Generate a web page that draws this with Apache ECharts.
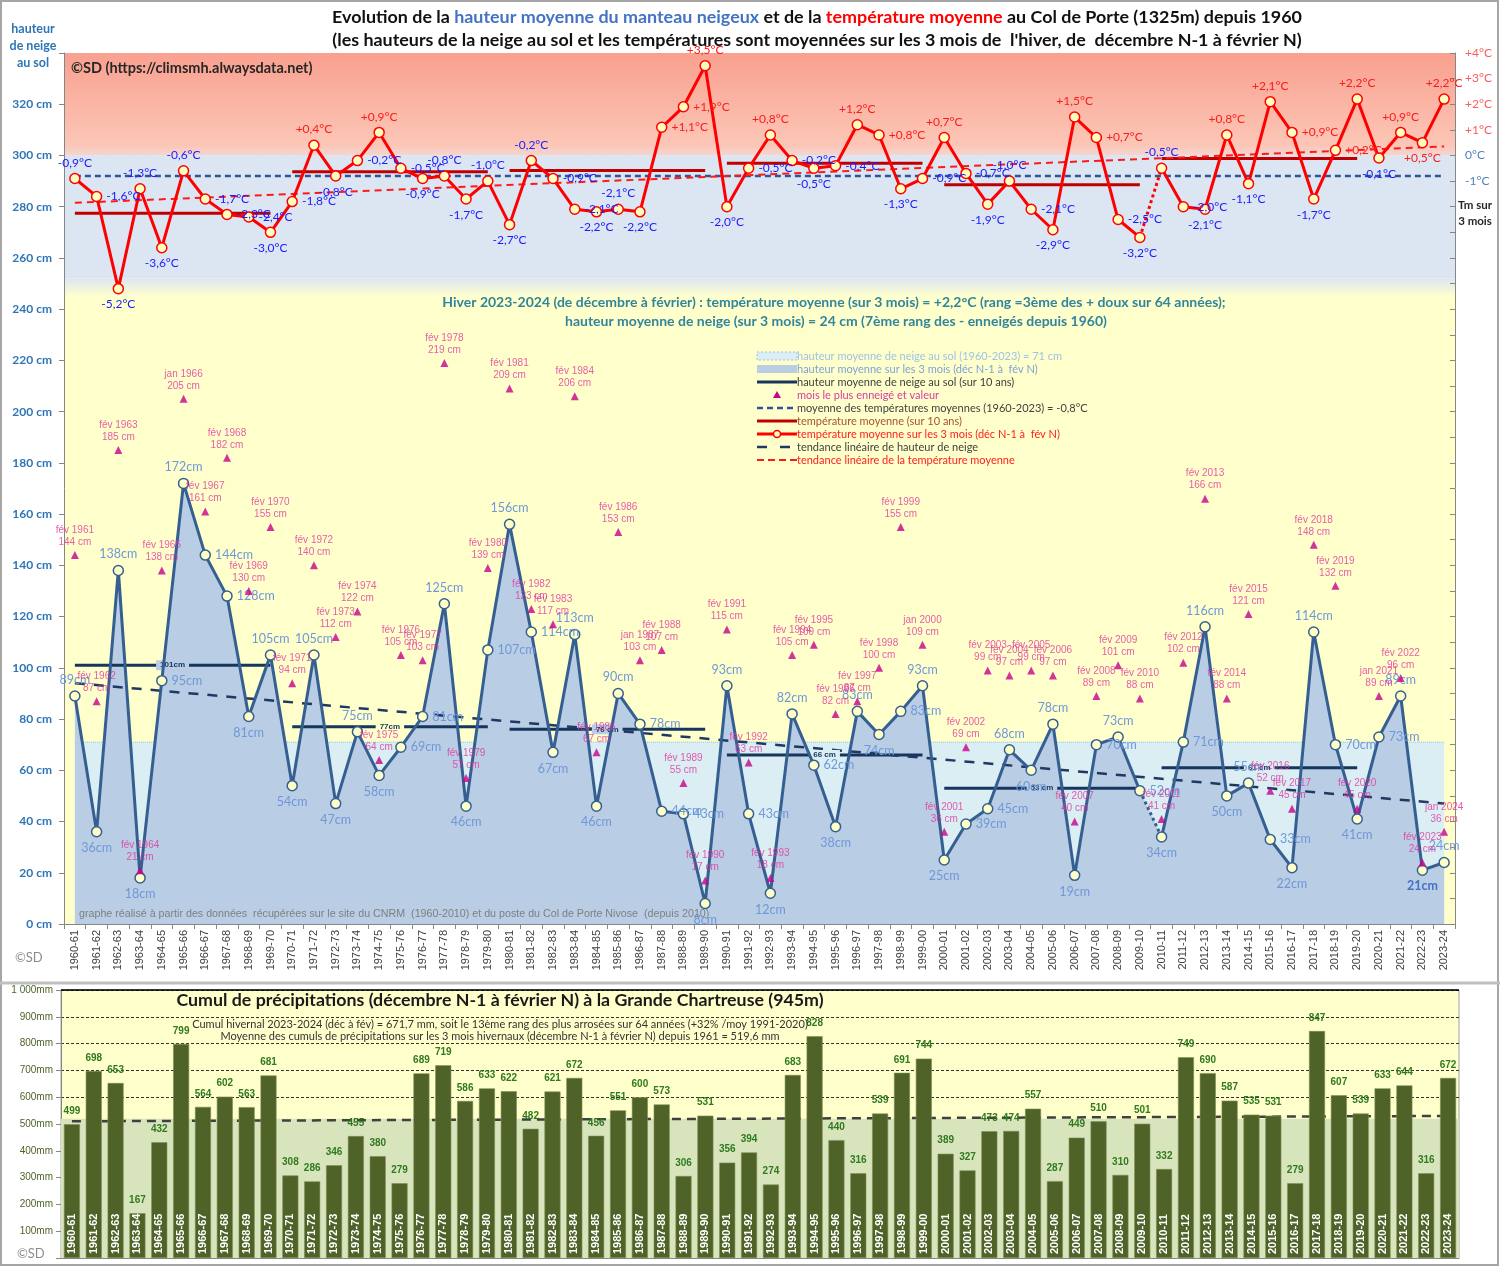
<!DOCTYPE html>
<html><head><meta charset="utf-8">
<script src="https://cdn.jsdelivr.net/npm/echarts@6/dist/echarts.min.js"></script>
<style>html,body{margin:0;padding:0;background:#fff}#c{width:1500px;height:1267px}</style>
</head><body><div id="c"></div>
<script>
const YEARS = ["1960-61","1961-62","1962-63","1963-64","1964-65","1965-66","1966-67","1967-68","1968-69","1969-70",
"1970-71","1971-72","1972-73","1973-74","1974-75","1975-76","1976-77","1977-78","1978-79","1979-80",
"1980-81","1981-82","1982-83","1983-84","1984-85","1985-86","1986-87","1987-88","1988-89","1989-90",
"1990-91","1991-92","1992-93","1993-94","1994-95","1995-96","1996-97","1997-98","1998-99","1999-00",
"2000-01","2001-02","2002-03","2003-04","2004-05","2005-06","2006-07","2007-08","2008-09","2009-10",
"2010-11","2011-12","2012-13","2013-14","2014-15","2015-16","2016-17","2017-18","2018-19","2019-20",
"2020-21","2021-22","2022-23","2023-24"];
const SNOW = [89,36,138,18,95,172,144,128,81,105, 54,105,47,75,58,69,81,125,46,107,
156,114,67,113,46,90,78,44,43,8, 93,43,12,82,62,38,83,74,83,93,
25,39,45,68,60,78,19,70,73,52, 34,71,116,50,55,33,22,114,70,41, 73,89,21,24];
const TEMP = [-0.9,-1.6,-5.2,-1.3,-3.6,-0.6,-1.7,-2.3,-2.4,-3.0, -1.8,0.4,-0.8,-0.2,0.9,-0.5,-0.9,-0.8,-1.7,-1.0,
-2.7,-0.2,-0.9,-2.1,-2.2,-2.1,-2.2,1.1,1.9,3.5, -2.0,-0.5,0.8,-0.2,-0.5,-0.4,1.2,0.8,-1.3,-0.9,
0.7,-0.7,-1.9,-1.0,-2.1,-2.9,1.5,0.7,-2.5,-3.2, -0.5,-2.0,-2.1,0.8,-1.1,2.1,0.9,-1.7,0.2,2.2, -0.1,0.9,0.5,2.2];
const MAX_MONTH = ["fév 1961","fév 1962","fév 1963","fév 1964","fév 1965","jan 1966","fév 1967","fév 1968","fév 1969","fév 1970",
"fév 1971","fév 1972","fév 1973","fév 1974","fév 1975","fév 1976","fév 1977","fév 1978","fév 1979","fév 1980",
"fév 1981","fév 1982","fév 1983","fév 1984","fév 1985","fév 1986","jan 1987","fév 1988","fév 1989","fév 1990",
"fév 1991","fév 1992","fév 1993","fév 1994","fév 1995","fév 1996","fév 1997","fév 1998","fév 1999","jan 2000",
"fév 2001","fév 2002","fév 2003","fév 2004","fév 2005","fév 2006","fév 2007","fév 2008","fév 2009","fév 2010",
"fév 2011","fév 2012","fév 2013","fév 2014","fév 2015","fév 2016","fév 2017","fév 2018","fév 2019","fév 2020",
"jan 2021","fév 2022","fév 2023","jan 2024"];
const MAX_VAL = [144,87,185,21,138,205,161,182,130,155, 94,140,112,122,64,105,103,219,57,139,
209,123,117,206,67,153,103,107,55,17, 115,63,18,105,109,82,87,100,155,109,
36,69,99,97,99,97,40,89,101,88, 41,102,166,88,121,52,45,148,132,45, 89,96,24,36];
const PRECIP = [499,698,653,167,432,799,564,602,563,681, 308,286,346,455,380,279,689,719,586,633,
622,482,621,672,456,551,600,573,306,531, 356,394,274,683,828,440,316,539,691,744,
389,327,473,474,557,287,449,510,310,501, 332,749,690,587,535,531,279,847,607,539, 633,644,316,672];
const DECADE_SNOW = [101,77,76,66,53,61];
const DECADE_SNOW_LABELS = ["101cm","77cm","76 cm","66 cm","53 cm","61 cm"];
const DECADE_TEMP = [-2.26,-0.64,-0.59,-0.30,-1.14,-0.12];
const SNOW_MEAN = 71;
const TEMP_MEAN = -0.8;
const PRECIP_MEAN = 519.6;
const SNOW_TREND = [94,47];
const TEMP_TREND = [-1.85,0.35];
const PRECIP_TREND = [510,530];
const BREAK = 49; // last index before station change (dotted link)

const N = YEARS.length;
const FILL = '#b9cde5', YEL = '#ffffcc', CYAN = '#daeef3', GRIDC = 'rgba(246,196,150,0.75)';
const SNOWLINE = '#365f91';

function fmtT(v){ const s = Math.abs(v).toFixed(1).replace('.',','); return (v>0?'+':(v<0?'-':''))+s+'°C'; }
function pos(arr,i){
  const v=arr[i], p=i>0?arr[i-1]:null, n=i<arr.length-1?arr[i+1]:null;
  if ((p===null||v>=p)&&(n===null||v>=n)) return 'top';
  if ((p===null||v<=p)&&(n===null||v<=n)) return 'bottom';
  return 'right';
}
function ends(a,b){ return YEARS.map((_,i)=> i===0?a:(i===N-1?b:null)); }

const series = [];
series.push({type:'line', xAxisIndex:0, yAxisIndex:0, data:YEARS.map(()=>null), z:0, silent:true, symbol:'none',
  markArea:{silent:true, data:[
    [{yAxis:300, itemStyle:{color:{type:'linear',x:0,y:0,x2:0,y2:1,colorStops:[{offset:0,color:'#f9a08f'},{offset:0.9,color:'#fcc6b6'},{offset:1,color:'#f3d6d3'}]}}},{yAxis:340}],
    [{yAxis:252, itemStyle:{color:'#dce6f2'}},{yAxis:300}],
    [{yAxis:245, itemStyle:{color:{type:'linear',x:0,y:0,x2:0,y2:1,colorStops:[{offset:0,color:'#dce6f2'},{offset:1,color:YEL}]}}},{yAxis:252}],
    [{yAxis:0, itemStyle:{color:YEL}},{yAxis:245}]
  ]}});
series.push({type:'line', xAxisIndex:0, yAxisIndex:0, data:YEARS.map(()=>SNOW_MEAN), symbol:'none', z:2, silent:true,
  lineStyle:{color:'#93c2dc', type:'dotted', width:1}, areaStyle:{color:CYAN, opacity:1}});
series.push({type:'line', xAxisIndex:0, yAxisIndex:0, data:SNOW, symbol:'none', z:3, silent:true,
  lineStyle:{width:0, opacity:0}, areaStyle:{color:FILL, opacity:1}});
DECADE_SNOW.forEach((v,d)=>{
  const mid = 10*d+5;
  const bg = SNOW[mid] > v ? FILL : (v < SNOW_MEAN ? CYAN : YEL);
  const data = YEARS.map((_,i)=>{
    if (i<10*d || i>10*d+9) return null;
    if (i===mid) return {value:v, label:{show:true, position:'inside', offset:[-11,0], formatter:DECADE_SNOW_LABELS[d],
      fontSize:8, fontWeight:'bold', color:'#17365d', backgroundColor:bg, padding:[1,4], fontFamily:'Liberation Sans'}};
    return v;
  });
  series.push({type:'line', xAxisIndex:0, yAxisIndex:0, data, z:4, silent:true, symbol:'circle', symbolSize:1,
    itemStyle:{color:'rgba(0,0,0,0)'}, lineStyle:{color:'#17365d', width:3}});
});
series.push({type:'line', xAxisIndex:0, yAxisIndex:0, data:ends(SNOW_TREND[0],SNOW_TREND[1]), connectNulls:true, symbol:'none', z:4,
  lineStyle:{color:'#1f3864', width:2.5, type:[10,9]}});
function snowPart(a,b){
  return SNOW.map((v,i)=> (i>=a&&i<=b) ? {value:v, label:{position:pos(SNOW,i),
    fontWeight: i===N-2?'bold':'normal', color: i===N-2?'#4472c4':'#6f98d8'}} : null);
}
const snowLineStyle = {type:'line', xAxisIndex:0, yAxisIndex:0, z:5, symbol:'circle', symbolSize:10,
  lineStyle:{color:SNOWLINE, width:3}, itemStyle:{color:'#ffffc8', borderColor:SNOWLINE, borderWidth:1.5},
  label:{show:true, formatter:p=>p.value+'cm', fontSize:12.5, color:'#6f98d8', fontFamily:'Lato', distance:4}};
series.push(Object.assign({}, snowLineStyle, {data:snowPart(0,BREAK)}));
series.push(Object.assign({}, snowLineStyle, {data:snowPart(BREAK+1,N-1)}));
series.push({type:'line', xAxisIndex:0, yAxisIndex:0, z:5, symbol:'none',
  data:SNOW.map((v,i)=> (i===BREAK||i===BREAK+1)?v:null), lineStyle:{color:SNOWLINE, width:3, type:'dotted'}});
series.push({type:'scatter', xAxisIndex:0, yAxisIndex:0, z:6, symbol:'triangle', symbolSize:8,
  data:MAX_VAL, itemStyle:{color:'#c8008c'},
  label:{show:true, position:'top', distance:3, fontSize:10, lineHeight:12, color:'#e0359f', fontFamily:'Liberation Sans',
    formatter:p=>MAX_MONTH[p.dataIndex]+'\n'+p.value+' cm'}});
series.push({type:'line', xAxisIndex:0, yAxisIndex:1, z:6, symbol:'none', data:YEARS.map(()=>TEMP_MEAN),
  lineStyle:{color:'#2f5597', width:2.5, type:[6,4]}});
DECADE_TEMP.forEach((v,d)=>{
  series.push({type:'line', xAxisIndex:0, yAxisIndex:1, z:6, symbol:'none',
    data:YEARS.map((_,i)=> (i>=10*d && i<=10*d+9)?v:null), lineStyle:{color:'#c00000', width:3}});
});
series.push({type:'line', xAxisIndex:0, yAxisIndex:1, z:6, symbol:'none', connectNulls:true,
  data:ends(TEMP_TREND[0],TEMP_TREND[1]), lineStyle:{color:'#ff1a1a', width:2, type:[7,5]}});
function tempPart(a,b){
  return TEMP.map((v,i)=> (i>=a&&i<=b) ? {value:v, label:{position:pos(TEMP,i), color: v>0?'#ff1a1a':'#1a1aff'}} : null);
}
const tempStyle = {type:'line', xAxisIndex:0, yAxisIndex:1, z:7, symbol:'circle', symbolSize:10,
  lineStyle:{color:'#ff0000', width:3}, itemStyle:{color:'#ffffc0', borderColor:'#ff0000', borderWidth:1.5},
  label:{show:true, formatter:p=>fmtT(p.value), fontSize:12, fontFamily:'Lato', distance:4}};
series.push(Object.assign({}, tempStyle, {data:tempPart(0,BREAK)}));
series.push(Object.assign({}, tempStyle, {data:tempPart(BREAK+1,N-1)}));
series.push({type:'line', xAxisIndex:0, yAxisIndex:1, z:7, symbol:'none',
  data:TEMP.map((v,i)=>(i===BREAK||i===BREAK+1)?v:null), lineStyle:{color:'#ff0000', width:3, type:'dotted'}});

series.push({type:'line', xAxisIndex:1, yAxisIndex:2, z:1, symbol:'none', silent:true, data:YEARS.map(()=>null),
  markArea:{silent:true, data:[[{yAxis:0, itemStyle:{color:'#d8e4bc'}},{yAxis:PRECIP_MEAN}]]},
  markLine:{silent:true, symbol:'none', label:{show:false}, lineStyle:{color:'#000', width:1.5, type:'solid'}, data:[{yAxis:1000}]}});
series.push({type:'line', xAxisIndex:1, yAxisIndex:2, z:2, symbol:'none', connectNulls:true,
  data:ends(PRECIP_TREND[0],PRECIP_TREND[1]), lineStyle:{color:'#404040', width:2.5, type:[9,6]}});
series.push({type:'bar', xAxisIndex:1, yAxisIndex:2, z:3, data:PRECIP, barWidth:16,
  itemStyle:{color:'#4f6228', borderColor:'#7d8f55', borderWidth:0.6},
  label:{show:true, position:'insideBottom', distance:4, rotate:90, align:'left', verticalAlign:'middle',
    formatter:p=>p.name, color:'#fff', fontWeight:'bold', fontSize:11, fontFamily:'Liberation Sans'}});
series.push({type:'bar', xAxisIndex:1, yAxisIndex:2, z:4, data:PRECIP, barWidth:16, barGap:'-100%',
  itemStyle:{color:'rgba(0,0,0,0)'},
  label:{show:true, position:'top', distance:8, color:'#2f7a1f', fontSize:10, fontWeight:'bold', fontFamily:'Liberation Sans'}});

function txt(x,y,text,font,fill,align){ return {type:'text', x, y, z:20, style:{text, font, fill, textAlign:align||'left', align:align||'left', textVerticalAlign:'middle', verticalAlign:'middle'}}; }

const graphics = [
  {type:'rect', z:0, shape:{x:1, y:1, width:1497, height:1264}, style:{fill:'none', stroke:'#a6a6a6', lineWidth:2}},
  {type:'line', z:0, shape:{x1:0, y1:983, x2:1500, y2:983}, style:{stroke:'#c0c0c0', lineWidth:3}},
  txt(33,29,'hauteur','bold 12.5px Lato','#2e75b6','center'),
  txt(33,46,'de neige','bold 12.5px Lato','#2e75b6','center'),
  txt(33,63,'au sol','bold 12.5px Lato','#2e75b6','center'),
  txt(71,68,'©SD (https://climsmh.alwaysdata.net)','bold 14.5px Lato','#262626'),
  txt(834,302,"Hiver 2023-2024 (de décembre à février) : température moyenne (sur 3 mois) = +2,2°C (rang =3ème des + doux sur 64 années);",'bold 14px Lato','#31859c','center'),
  txt(836,321,"hauteur moyenne de neige (sur 3 mois) = 24 cm (7ème rang des - enneigés depuis 1960)",'bold 14px Lato','#31859c','center'),
  txt(1475,205,'Tm sur','bold 11.5px Lato','#262626','center'),
  txt(1475,221,'3 mois','bold 11.5px Lato','#262626','center'),
  txt(79,914,'graphe réalisé à partir des données  récupérées sur le site du CNRM  (1960-2010) et du poste du Col de Porte Nivose  (depuis 2010)','10.7px Liberation Sans','#7f7f7f'),
  txt(15,958,'©SD','13px Lato','#8c8c8c'),
  txt(17,1254,'©SD','13px Lato','#8c8c8c'),
  txt(500,1000,'Cumul de précipitations (décembre N-1 à février N) à la Grande Chartreuse (945m)','bold 17.8px Lato','#1a1a1a','center'),
  txt(500,1024,'Cumul hivernal 2023-2024 (déc à fév) = 671,7 mm, soit le 13ème rang des plus arrosées sur 64 années (+32% /moy 1991-2020)','11px "Liberation Sans Narrow", Lato','#333','center'),
  txt(500,1036,'Moyenne des cumuls de précipitations sur les 3 mois hivernaux (décembre N-1 à février N) depuis 1961 = 519,6 mm','11px "Liberation Sans Narrow", Lato','#333','center')
];

// legend
const LX = 757, LT = 356, LS = 13, TX = 797;
const legTexts = [
 ['hauteur moyenne de neige au sol (1960-2023) = 71 cm','#9dc3e6'],
 ['hauteur moyenne sur les 3 mois (déc N-1 à  fév N)','#7fa2d8'],
 ['hauteur moyenne de neige au sol (sur 10 ans)','#404040'],
 ['mois le plus enneigé et valeur','#d83ba0'],
 ['moyenne des températures moyennes (1960-2023) = -0,8°C','#404040'],
 ['température moyenne (sur 10 ans)','#a5542a'],
 ['température moyenne sur les 3 mois (déc N-1 à  fév N)','#ff2020'],
 ['tendance linéaire de hauteur de neige','#404040'],
 ['tendance linéaire de la température moyenne','#ff2020']
];
function ly(i){ return LT+i*LS; }
legTexts.forEach((t,i)=>{ graphics.push(txt(TX, ly(i), t[0], '11px Lato', t[1])); });
graphics.push({type:'rect', z:20, shape:{x:LX, y:ly(0)-4, width:40, height:8}, style:{fill:CYAN, stroke:'#9dc3e6', lineWidth:1, lineDash:[2,2]}});
graphics.push({type:'rect', z:20, shape:{x:LX, y:ly(1)-4, width:40, height:8}, style:{fill:FILL}});
graphics.push({type:'line', z:20, shape:{x1:LX, y1:ly(2), x2:LX+40, y2:ly(2)}, style:{stroke:'#17365d', lineWidth:3}});
graphics.push({type:'polygon', z:20, shape:{points:[[LX+20,ly(3)-4],[LX+24,ly(3)+3],[LX+16,ly(3)+3]]}, style:{fill:'#c8008c'}});
graphics.push({type:'line', z:20, shape:{x1:LX, y1:ly(4), x2:LX+40, y2:ly(4)}, style:{stroke:'#2f5597', lineWidth:2.5, lineDash:[6,4]}});
graphics.push({type:'line', z:20, shape:{x1:LX, y1:ly(5), x2:LX+40, y2:ly(5)}, style:{stroke:'#c00000', lineWidth:3}});
graphics.push({type:'line', z:20, shape:{x1:LX, y1:ly(6), x2:LX+40, y2:ly(6)}, style:{stroke:'#ff0000', lineWidth:3}});
graphics.push({type:'circle', z:21, shape:{cx:LX+20, cy:ly(6), r:3.5}, style:{fill:'#ffffc0', stroke:'#ff0000', lineWidth:1.5}});
graphics.push({type:'line', z:20, shape:{x1:LX, y1:ly(7), x2:LX+40, y2:ly(7)}, style:{stroke:'#1f3864', lineWidth:2.5, lineDash:[10,13]}});
graphics.push({type:'line', z:20, shape:{x1:LX, y1:ly(8), x2:LX+40, y2:ly(8)}, style:{stroke:'#ff1a1a', lineWidth:2, lineDash:[7,4]}});

const option = {
  animation:false,
  backgroundColor:'#fff',
  title:[
    {left:812, top:3, textAlign:'center', text:'{a|Evolution de la }{b|hauteur moyenne du manteau neigeux}{a| et de la }{r|température moyenne}{a| au Col de Porte (1325m) depuis 1960}',
     textStyle:{rich:{
       a:{color:'#111', fontWeight:'bold', fontSize:17.9, fontFamily:'Lato'},
       b:{color:'#4472c4', fontWeight:'bold', fontSize:17.9, fontFamily:'Lato'},
       r:{color:'#ff0000', fontWeight:'bold', fontSize:17.9, fontFamily:'Lato'}}}},
    {left:812, top:26, textAlign:'center', text:"(les hauteurs de la neige au sol et les températures sont moyennées sur les 3 mois de  l'hiver, de  décembre N-1 à février N)",
     textStyle:{color:'#111', fontWeight:'bold', fontSize:17.9, fontFamily:'Lato'}}
  ],
  grid:[
    {left:64, top:53, width:1391, height:871, show:false},
    {left:61, top:990, width:1398, height:268, show:true, backgroundColor:YEL, borderColor:'#a0a0a0', borderWidth:1}
  ],
  xAxis:[
    {gridIndex:0, type:'category', data:YEARS, z:1,
     axisLine:{lineStyle:{color:'#868686'}}, axisTick:{show:true, interval:0, length:5, lineStyle:{color:'#868686'}},
     axisLabel:{interval:0, rotate:90, fontSize:11, color:'#404040', fontFamily:'Liberation Sans', margin:6},
     splitLine:{show:true, interval:0, lineStyle:{color:GRIDC, type:'dotted', width:1}}},
    {gridIndex:1, type:'category', data:YEARS, z:1,
     axisLine:{lineStyle:{color:'#868686'}}, axisTick:{show:false}, axisLabel:{show:false}, splitLine:{show:false}}
  ],
  yAxis:[
    {gridIndex:0, type:'value', min:0, max:340, interval:20, position:'left', z:1,
     axisLine:{show:true, lineStyle:{color:'#868686'}}, axisTick:{show:true, length:5, lineStyle:{color:'#868686'}},
     axisLabel:{formatter:v=>v===340?'':v+' cm', color:'#2e75b6', fontSize:12, fontWeight:'bold', fontFamily:'Lato', margin:12},
     splitLine:{show:false}},
    {gridIndex:0, type:'value', min:-30, max:4, interval:1, position:'right', z:1,
     axisLine:{show:true, lineStyle:{color:'#868686'}}, axisTick:{show:true, inside:true, length:5, lineStyle:{color:'#868686'}},
     axisLabel:{formatter:v=> v>0?('+'+v+'°C'):(v===0?'0°C':(v===-1?'-1°C':'')),
       color:v=> v>0?'#ff5b5b':(v===0?'#595959':'#4f81bd'), fontSize:12, fontFamily:'Lato', margin:10},
     splitLine:{show:true, lineStyle:{color:GRIDC, type:'dotted', width:1}}},
    {gridIndex:1, type:'value', min:0, max:1000, interval:100,
     axisLine:{show:true, lineStyle:{color:'#868686'}}, axisTick:{show:true, length:5, lineStyle:{color:'#868686'}},
     axisLabel:{formatter:v=> v===0?'':(v===1000?'1 000mm':v+'mm'), color:'#4f6228', fontSize:10, fontFamily:'Liberation Sans', margin:8},
     splitLine:{show:true, lineStyle:{color:'#333', type:[3,2], width:1}}}
  ],
  series,
  graphic:graphics
};
const chart = echarts.init(document.getElementById('c'));
chart.setOption(option);
</script></body></html>
